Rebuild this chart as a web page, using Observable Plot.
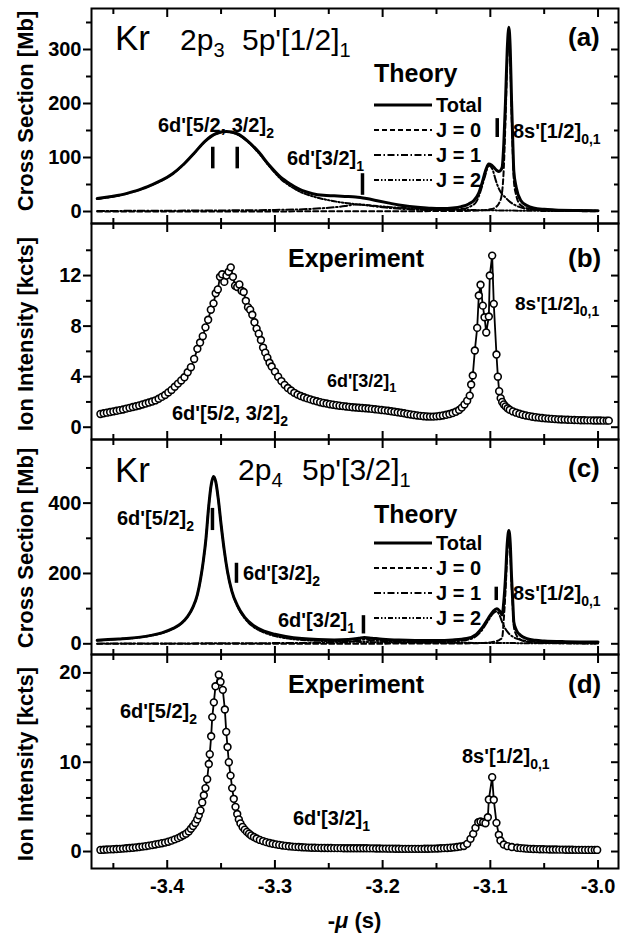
<!DOCTYPE html>
<html><head><meta charset="utf-8">
<script src="https://cdn.jsdelivr.net/npm/d3@7"></script>
<script src="https://cdn.jsdelivr.net/npm/@observablehq/plot@0.6"></script>
<style>
body{margin:0;background:#fff;}
#root{position:relative;width:635px;height:935px;overflow:hidden;font-family:"Liberation Sans",Arial,sans-serif;background:#fff;}
#root svg{position:absolute;left:0;}
</style></head><body><div id="root"></div>
<script>
// ---------- axis ticks ----------
const xDomain = [-3.4703, -2.981];
const xMajor = [-3.4, -3.3, -3.2, -3.1, -3.0];
const xMinor = [-3.45, -3.35, -3.25, -3.15, -3.05];
const yMajorA = [0, 100, 200, 300], yMinorA = [50, 150, 250, 350];
const yMajorB = [0, 4, 8, 12], yMinorB = [2, 6, 10, 14];
const yMajorC = [0, 200, 400], yMinorC = [100, 300, 500];
const yMajorD = [0, 10, 20], yMinorD = [2, 4, 6, 8, 12, 14, 16, 18];

// ---------- panel (a) theory ----------
const totalA = [[-3.465,24],[-3.455,27],[-3.445,30],[-3.435,35],[-3.425,41],[-3.415,49],[-3.405,58],[-3.395,70],[-3.385,87],[-3.375,108],[-3.365,130],[-3.355,144],[-3.345,148],[-3.335,144],[-3.325,130],[-3.315,110],[-3.305,85],[-3.295,64],[-3.285,50],[-3.275,39],[-3.265,33],[-3.255,30],[-3.245,29],[-3.235,28],[-3.225,27],[-3.215,24],[-3.205,20],[-3.195,16],[-3.185,12],[-3.175,9.5],[-3.165,7.5],[-3.155,6],[-3.145,5.5],[-3.135,6.5],[-3.127,9],[-3.12,14],[-3.115,21],[-3.111,33],[-3.1075,54],[-3.104,78],[-3.1015,88],[-3.099,86],[-3.0968,82],[-3.094,76],[-3.092,74],[-3.0905,76],[-3.089,82],[-3.0875,125],[-3.0859,205],[-3.0843,300],[-3.0828,341],[-3.0815,300],[-3.0803,205],[-3.079,120],[-3.0782,75],[-3.076,45],[-3.0719,21],[-3.066,11],[-3.06,6.5],[-3.05,4],[-3.04,3],[-3.02,2],[-3.0,1.5]];
const j2A = [[-3.465,23],[-3.455,26],[-3.445,29.5],[-3.435,34.5],[-3.425,40.5],[-3.415,48.5],[-3.405,57.5],[-3.395,69.5],[-3.385,86.5],[-3.375,107.5],[-3.365,129.5],[-3.355,143.5],[-3.345,147.5],[-3.335,143],[-3.325,129],[-3.315,108],[-3.305,83],[-3.295,61],[-3.285,46],[-3.275,35],[-3.265,28],[-3.255,23],[-3.245,19],[-3.235,16],[-3.225,13.5],[-3.215,11.5],[-3.205,10],[-3.195,8.5],[-3.185,7],[-3.175,6],[-3.165,5],[-3.15,4],[-3.13,3],[-3.11,2.5],[-3.09,2],[-3.07,1.5],[-3.04,1],[-3.0,0.8]];
const j1A = [[-3.465,1],[-3.40,1.5],[-3.35,2],[-3.30,3],[-3.27,4.5],[-3.25,7],[-3.235,10],[-3.225,13],[-3.215,12],[-3.205,9],[-3.195,7],[-3.18,4.5],[-3.16,3],[-3.14,3],[-3.125,5],[-3.118,10],[-3.113,18],[-3.109,38],[-3.105,65],[-3.1015,85],[-3.098,78],[-3.095,58],[-3.092,42],[-3.089,32],[-3.086,26],[-3.083,20],[-3.079,14],[-3.074,9],[-3.066,5],[-3.05,3],[-3.0,1.5]];
const j0A = [[-3.465,0],[-3.20,0.5],[-3.13,1],[-3.11,2],[-3.10,4],[-3.095,8],[-3.092,15],[-3.0895,30],[-3.0875,80],[-3.0859,170],[-3.0843,280],[-3.0828,320],[-3.0815,280],[-3.0803,185],[-3.079,100],[-3.0782,58],[-3.076,30],[-3.072,12],[-3.066,6],[-3.06,4],[-3.04,1.5],[-3.0,0.5]];
const barsA = [[-3.3577,79,119],[-3.3350,79,119],[-3.2187,30,70],[-3.0936,137,172]];

// ---------- panel (b) experiment ----------
const expB = [[-3.462,1.05],[-3.459,1.1],[-3.456,1.15],[-3.453,1.2],[-3.450,1.25],[-3.447,1.3],[-3.444,1.35],[-3.441,1.4],[-3.438,1.47],[-3.435,1.53],[-3.432,1.6],[-3.429,1.66],[-3.426,1.72],[-3.423,1.8],[-3.420,1.87],[-3.417,1.95],[-3.414,2.03],[-3.411,2.12],[-3.408,2.25],[-3.405,2.4],[-3.402,2.55],[-3.399,2.75],[-3.396,2.95],[-3.393,3.2],[-3.390,3.45],[-3.387,3.7],[-3.384,3.95],[-3.381,4.35],[-3.378,4.75],[-3.375,5.4],[-3.372,6.2],[-3.3695,6.7],[-3.367,7.2],[-3.3645,7.9],[-3.362,8.5],[-3.3595,9.3],[-3.357,9.8],[-3.355,10.6],[-3.353,10.9],[-3.351,11.9],[-3.349,12.1],[-3.347,11.5],[-3.345,12.0],[-3.343,12.3],[-3.341,12.65],[-3.339,11.9],[-3.337,11.2],[-3.335,11.1],[-3.333,11.3],[-3.331,10.8],[-3.329,10.7],[-3.327,10.0],[-3.325,9.5],[-3.323,9.3],[-3.321,8.9],[-3.319,8.3],[-3.317,7.8],[-3.315,7.4],[-3.313,6.9],[-3.311,6.3],[-3.309,5.9],[-3.307,5.5],[-3.305,5.1],[-3.303,4.8],[-3.300,4.4],[-3.297,4.0],[-3.294,3.65],[-3.291,3.35],[-3.288,3.1],[-3.285,2.9],[-3.282,2.72],[-3.279,2.58],[-3.276,2.47],[-3.273,2.37],[-3.270,2.28],[-3.267,2.2],[-3.264,2.12],[-3.261,2.05],[-3.258,1.98],[-3.255,1.92],[-3.252,1.87],[-3.249,1.82],[-3.246,1.78],[-3.243,1.74],[-3.240,1.7],[-3.237,1.67],[-3.234,1.64],[-3.231,1.61],[-3.228,1.58],[-3.225,1.56],[-3.222,1.54],[-3.219,1.52],[-3.216,1.5],[-3.213,1.48],[-3.210,1.45],[-3.207,1.42],[-3.204,1.39],[-3.201,1.36],[-3.198,1.33],[-3.195,1.3],[-3.192,1.26],[-3.189,1.22],[-3.186,1.18],[-3.183,1.14],[-3.180,1.1],[-3.177,1.05],[-3.174,1.01],[-3.171,0.97],[-3.168,0.93],[-3.165,0.9],[-3.162,0.87],[-3.159,0.85],[-3.156,0.84],[-3.153,0.84],[-3.150,0.86],[-3.147,0.89],[-3.144,0.93],[-3.141,0.98],[-3.138,1.04],[-3.135,1.12],[-3.132,1.22],[-3.129,1.36],[-3.1265,1.55],[-3.124,1.8],[-3.1215,2.1],[-3.1191,2.5],[-3.1178,3.38],[-3.1163,4.09],[-3.1144,6.07],[-3.1122,7.86],[-3.1107,10.42],[-3.1091,11.27],[-3.1070,9.62],[-3.1054,8.7],[-3.1038,7.5],[-3.1014,8.76],[-3.1005,12.0],[-3.0983,13.58],[-3.0968,9.76],[-3.0943,5.75],[-3.0930,4.0],[-3.0918,2.85],[-3.0904,2.3],[-3.0890,2.0],[-3.0875,1.8],[-3.0859,1.65],[-3.084,1.5],[-3.082,1.38],[-3.079,1.25],[-3.076,1.15],[-3.073,1.06],[-3.070,0.99],[-3.067,0.93],[-3.064,0.88],[-3.061,0.83],[-3.058,0.79],[-3.055,0.76],[-3.052,0.73],[-3.049,0.7],[-3.046,0.68],[-3.043,0.66],[-3.040,0.64],[-3.037,0.62],[-3.034,0.61],[-3.031,0.6],[-3.028,0.59],[-3.025,0.58],[-3.022,0.57],[-3.019,0.56],[-3.016,0.55],[-3.013,0.55],[-3.010,0.54],[-3.007,0.54],[-3.004,0.53],[-3.001,0.53],[-2.998,0.53],[-2.995,0.52],[-2.992,0.52],[-2.990,0.52]];

// ---------- panel (c) theory ----------
const totalC = [[-3.465,10],[-3.455,12],[-3.445,14],[-3.435,16],[-3.425,19],[-3.415,24],[-3.405,31],[-3.395,43],[-3.387,58],[-3.381,78],[-3.376,105],[-3.372,140],[-3.369,185],[-3.3665,235],[-3.364,300],[-3.3615,390],[-3.359,455],[-3.357,476],[-3.355,462],[-3.3525,410],[-3.35,340],[-3.347,265],[-3.344,205],[-3.340,150],[-3.335,110],[-3.328,75],[-3.32,52],[-3.31,36],[-3.30,27],[-3.29,21],[-3.275,15],[-3.26,12],[-3.245,11],[-3.232,12],[-3.222,16],[-3.217,18],[-3.21,16],[-3.2,13],[-3.185,10.5],[-3.17,9.5],[-3.15,9.5],[-3.135,11],[-3.122,15],[-3.113,27],[-3.107,48],[-3.102,72],[-3.0975,92],[-3.094,100],[-3.091,92],[-3.089,82],[-3.0875,120],[-3.0859,190],[-3.0843,285],[-3.0828,322],[-3.0815,285],[-3.0803,190],[-3.079,110],[-3.0782,62],[-3.076,40],[-3.0719,24],[-3.066,15],[-3.058,10],[-3.05,8],[-3.03,6],[-3.0,5]];
const j2C = [[-3.465,9.5],[-3.455,11.5],[-3.445,13.5],[-3.435,15.5],[-3.425,18.5],[-3.415,23.5],[-3.405,30.5],[-3.395,42.5],[-3.387,57.5],[-3.381,77.5],[-3.376,104.5],[-3.372,139.5],[-3.369,184.5],[-3.3665,234.5],[-3.364,299.5],[-3.3615,389.5],[-3.359,454.5],[-3.357,475.5],[-3.355,461.5],[-3.3525,409.5],[-3.35,339.5],[-3.347,264],[-3.344,204],[-3.340,149],[-3.335,108],[-3.328,72],[-3.32,48],[-3.31,32],[-3.30,22],[-3.29,16],[-3.275,11],[-3.26,8.5],[-3.245,7],[-3.23,6],[-3.215,5],[-3.2,4.5],[-3.17,3.5],[-3.14,3],[-3.11,2.5],[-3.08,2],[-3.05,1.5],[-3.0,1]];
const j1C = [[-3.465,0.5],[-3.40,1],[-3.35,1.5],[-3.30,2],[-3.26,3],[-3.24,4],[-3.23,6],[-3.222,10],[-3.217,12],[-3.21,10],[-3.2,8],[-3.185,6],[-3.17,5],[-3.15,5],[-3.135,6.5],[-3.122,11],[-3.113,22],[-3.107,42],[-3.102,66],[-3.0975,86],[-3.094,92],[-3.091,78],[-3.089,62],[-3.0865,45],[-3.083,30],[-3.079,20],[-3.075,14],[-3.07,10],[-3.06,6],[-3.045,4],[-3.0,2]];
const j0C = [[-3.465,0],[-3.2,0.5],[-3.13,1],[-3.11,2],[-3.10,4],[-3.095,7],[-3.091,12],[-3.089,18],[-3.0875,70],[-3.0859,150],[-3.0843,255],[-3.0828,300],[-3.0815,260],[-3.0803,170],[-3.079,95],[-3.0782,50],[-3.076,26],[-3.072,12],[-3.066,6],[-3.06,4],[-3.04,2],[-3.0,1]];
const barsC = [[-3.3580,322,385],[-3.3357,172,229],[-3.2178,28,80],[-3.0945,123,161]];

// ---------- panel (d) experiment ----------
const expD = [[-3.462,0.18],[-3.459,0.2],[-3.456,0.22],[-3.453,0.24],[-3.450,0.26],[-3.447,0.28],[-3.444,0.3],[-3.441,0.33],[-3.438,0.36],[-3.435,0.39],[-3.432,0.42],[-3.429,0.46],[-3.426,0.5],[-3.423,0.55],[-3.420,0.6],[-3.417,0.66],[-3.414,0.72],[-3.411,0.79],[-3.408,0.86],[-3.405,0.93],[-3.402,1.0],[-3.399,1.1],[-3.396,1.22],[-3.393,1.36],[-3.390,1.5],[-3.3875,1.65],[-3.385,1.82],[-3.3825,2.0],[-3.380,2.25],[-3.378,2.55],[-3.376,2.85],[-3.374,3.2],[-3.3722,3.6],[-3.3707,4.05],[-3.3691,4.6],[-3.3675,5.5],[-3.3660,6.3],[-3.3645,7.1],[-3.3629,8.1],[-3.3614,9.8],[-3.3605,10.9],[-3.3592,12.9],[-3.3582,15.05],[-3.3567,16.7],[-3.3552,18.5],[-3.3521,19.8],[-3.3505,19.0],[-3.3484,18.1],[-3.3465,15.9],[-3.3452,13.4],[-3.3440,11.7],[-3.3428,10.0],[-3.3412,8.5],[-3.3397,7.1],[-3.3382,5.9],[-3.3366,5.0],[-3.3350,4.2],[-3.3335,3.6],[-3.332,3.15],[-3.330,2.75],[-3.328,2.45],[-3.326,2.2],[-3.324,2.0],[-3.322,1.8],[-3.3195,1.62],[-3.317,1.46],[-3.314,1.3],[-3.311,1.17],[-3.308,1.05],[-3.305,0.95],[-3.302,0.87],[-3.299,0.8],[-3.296,0.74],[-3.293,0.68],[-3.290,0.63],[-3.287,0.59],[-3.284,0.55],[-3.281,0.52],[-3.278,0.5],[-3.275,0.48],[-3.272,0.46],[-3.269,0.44],[-3.266,0.43],[-3.263,0.42],[-3.260,0.41],[-3.257,0.4],[-3.254,0.4],[-3.251,0.39],[-3.248,0.39],[-3.245,0.38],[-3.242,0.38],[-3.239,0.38],[-3.236,0.37],[-3.233,0.37],[-3.230,0.37],[-3.227,0.37],[-3.224,0.37],[-3.221,0.37],[-3.218,0.36],[-3.215,0.36],[-3.212,0.35],[-3.209,0.35],[-3.206,0.34],[-3.203,0.34],[-3.200,0.33],[-3.197,0.33],[-3.194,0.32],[-3.191,0.32],[-3.188,0.31],[-3.185,0.31],[-3.182,0.3],[-3.179,0.3],[-3.176,0.3],[-3.173,0.3],[-3.170,0.3],[-3.167,0.3],[-3.164,0.3],[-3.161,0.31],[-3.158,0.31],[-3.155,0.32],[-3.152,0.33],[-3.149,0.34],[-3.146,0.36],[-3.143,0.38],[-3.140,0.4],[-3.137,0.43],[-3.134,0.46],[-3.131,0.5],[-3.128,0.56],[-3.1246,0.62],[-3.1215,0.86],[-3.1184,1.42],[-3.1159,1.98],[-3.1138,2.65],[-3.1112,3.28],[-3.1091,3.36],[-3.1066,3.28],[-3.1045,3.17],[-3.1023,3.84],[-3.1014,5.82],[-3.0983,8.32],[-3.0968,5.79],[-3.0943,3.21],[-3.0921,1.87],[-3.0906,1.23],[-3.0875,0.78],[-3.084,0.6],[-3.080,0.5],[-3.075,0.42],[-3.072,0.38],[-3.069,0.35],[-3.066,0.32],[-3.063,0.3],[-3.060,0.28],[-3.057,0.27],[-3.054,0.26],[-3.051,0.25],[-3.048,0.24],[-3.045,0.23],[-3.042,0.22],[-3.039,0.22],[-3.036,0.21],[-3.033,0.21],[-3.030,0.2],[-3.027,0.2],[-3.024,0.2],[-3.021,0.19],[-3.018,0.19],[-3.015,0.19],[-3.012,0.18],[-3.009,0.18],[-3.006,0.18],[-3.003,0.18],[-3.0008,0.18]];

// ---------- drawing ----------
const root = document.getElementById("root");
const FONT = "'Liberation Sans', Arial, sans-serif";
const X = d => d[0], Y = d => d[1];
const blank = () => "";

function theoryMarks(tot, j0, j1, j2, bars) {
  return [
    Plot.line(j0, {x: X, y: Y, stroke: "black", strokeWidth: 2, strokeDasharray: "5,3", curve: "monotone-x", clip: true}),
    Plot.line(j1, {x: X, y: Y, stroke: "black", strokeWidth: 2, strokeDasharray: "7,2.5,1.5,2.5", curve: "monotone-x", clip: true}),
    Plot.line(j2, {x: X, y: Y, stroke: "black", strokeWidth: 2, strokeDasharray: "5,2,1.5,2,1.5,2", curve: "monotone-x", clip: true}),
    Plot.line(tot, {x: X, y: Y, stroke: "black", strokeWidth: 3, curve: "monotone-x", clip: true}),
    Plot.ruleX(bars, {x: X, y1: d => d[1], y2: d => d[2], stroke: "black", strokeWidth: 3.5})
  ];
}
function expMarks(data) {
  return [
    Plot.line(data, {x: X, y: Y, stroke: "black", strokeWidth: 1.8}),
    Plot.dot(data, {x: X, y: Y, r: 3.4, fill: "white", stroke: "black", strokeWidth: 1.6})
  ];
}

function panel(top, h, yDomain, yMajor, yMinor, marks, bottomLabels) {
  const padT = 10, padB = bottomLabels ? 40 : 10;
  const axes = [
    Plot.frame({stroke: "black", strokeWidth: 2}),
    Plot.axisY(yMajor, {anchor: "left", tickSize: 8, tickPadding: 2, strokeWidth: 2, fontSize: 20, fontWeight: "bold", tickFormat: d => String(d), label: null}),
    Plot.axisY(yMinor, {anchor: "left", tickSize: 5, strokeWidth: 2, tickFormat: blank, label: null}),
    Plot.axisY(yMajor, {anchor: "right", tickSize: -8, strokeWidth: 2, tickFormat: blank, label: null}),
    Plot.axisY(yMinor, {anchor: "right", tickSize: -5, strokeWidth: 2, tickFormat: blank, label: null}),
    Plot.axisX(xMajor, {anchor: "top", tickSize: -8, strokeWidth: 2, tickFormat: blank, label: null}),
    Plot.axisX(xMinor, {anchor: "top", tickSize: -5, strokeWidth: 2, tickFormat: blank, label: null}),
    Plot.axisX(xMajor, {anchor: "bottom", tickSize: -8, strokeWidth: 2, tickFormat: blank, label: null}),
    Plot.axisX(xMinor, {anchor: "bottom", tickSize: -5, strokeWidth: 2, tickFormat: blank, label: null})
  ];
  if (bottomLabels) axes.push(Plot.axisX(xMajor, {anchor: "bottom", tickSize: 0, tickPadding: 10, fontSize: 20, fontWeight: "bold", tickFormat: d => d.toFixed(1), label: null}));
  const svg = Plot.plot({
    width: 635, height: h + padT + padB,
    marginLeft: 91, marginRight: 17, marginTop: padT, marginBottom: padB,
    x: {domain: xDomain}, y: {domain: yDomain},
    style: {background: "transparent", overflow: "visible", fontFamily: FONT, fontWeight: "bold", fontSize: "20px", color: "black"},
    marks: [...marks, ...axes]
  });
  svg.style.position = "absolute";
  svg.style.top = (top - padT) + "px";
  svg.style.left = "0px";
  root.appendChild(svg);
}

panel(8, 215, [-22.2, 375.9], yMajorA, yMinorA, theoryMarks(totalA, j0A, j1A, j2A, barsA), false);
panel(223, 216, [-0.973, 16.12], yMajorB, yMinorB, expMarks(expB), false);
panel(439, 215, [-30.4, 580.9], yMajorC, yMinorC, theoryMarks(totalC, j0C, j1C, j2C, barsC), false);
panel(654, 214, [-1.90, 22.06], yMajorD, yMinorD, expMarks(expD), true);

// ---------- text overlay ----------
const sub = (s, size = 14, dy = 6) => `<tspan dy="${dy}" font-size="${size}">${s}</tspan>`;
const T = (x, y, size, weight, content) => `<text x="${x}" y="${y}" font-size="${size}" font-weight="${weight}">${content}</text>`;
const YT = (y, label) => `<text transform="translate(33,${y}) rotate(-90)" text-anchor="middle" font-size="22" font-weight="bold">${label}</text>`;
function legend(y0) {
  const ys = [y0, y0 + 25, y0 + 50, y0 + 75];
  const dash = [null, "5,3", "7,2.5,1.5,2.5", "5,2,1.5,2,1.5,2"];
  const names = ["Total", "J = 0", "J = 1", "J = 2"];
  return ys.map((y, i) =>
    `<line x1="374" x2="432" y1="${y}" y2="${y}" stroke="black" stroke-width="${i ? 2 : 3}" ${dash[i] ? `stroke-dasharray="${dash[i]}"` : ""}/>` +
    T(436, y + 7, 20, "bold", names[i])).join("");
}
const overlay = `<svg xmlns="http://www.w3.org/2000/svg" width="635" height="935" style="position:absolute;left:0;top:0;font-family:${FONT.replace(/"/g, "")};fill:black">
${YT(111, "Cross Section [Mb]")}
${YT(334, "Ion Intensity [kcts]")}
${YT(548, "Cross Section [Mb]")}
${YT(764, "Ion Intensity [kcts]")}
${T(115, 50, 35, "normal", "Kr")}
${T(180, 50, 30, "normal", "2p" + sub("3", 20, 7))}
${T(242, 50, 30, "normal", "5p'[1/2]" + sub("1", 20, 7))}
${T(568, 46, 26, "bold", "(a)")}
${T(374, 82, 25, "bold", "Theory")}
${legend(105)}
${T(158, 132, 20, "bold", "6d'[5/2, 3/2]" + sub("2"))}
${T(287, 165, 20, "bold", "6d'[3/2]" + sub("1"))}
${T(513, 138, 20, "bold", "8s'[1/2]" + sub("0,1"))}
${T(288, 267, 25, "bold", "Experiment")}
${T(568, 267, 26, "bold", "(b)")}
${T(515, 310, 19, "bold", "8s'[1/2]" + sub("0,1"))}
${T(327, 387, 18, "bold", "6d'[3/2]" + sub("1", 13, 5))}
${T(172, 420, 20, "bold", "6d'[5/2, 3/2]" + sub("2"))}
${T(115, 482, 35, "normal", "Kr")}
${T(238, 480, 30, "normal", "2p" + sub("4", 20, 7))}
${T(302, 480, 30, "normal", "5p'[3/2]" + sub("1", 20, 7))}
${T(568, 477, 26, "bold", "(c)")}
${T(374, 523, 25, "bold", "Theory")}
${legend(543)}
${T(117, 525, 20, "bold", "6d'[5/2]" + sub("2"))}
${T(243, 580, 20, "bold", "6d'[3/2]" + sub("2"))}
${T(278, 627, 20, "bold", "6d'[3/2]" + sub("1"))}
${T(513, 600, 20, "bold", "8s'[1/2]" + sub("0,1"))}
${T(288, 693, 25, "bold", "Experiment")}
${T(568, 693, 26, "bold", "(d)")}
${T(120, 718, 20, "bold", "6d'[5/2]" + sub("2"))}
${T(462, 763, 20, "bold", "8s'[1/2]" + sub("0,1"))}
${T(293, 825, 20, "bold", "6d'[3/2]" + sub("1"))}
<text x="354.5" y="928" text-anchor="middle" font-size="22" font-weight="bold">-<tspan font-style="italic">μ</tspan> (s)</text>
</svg>`;
root.insertAdjacentHTML("beforeend", overlay);
</script>
</body></html>
